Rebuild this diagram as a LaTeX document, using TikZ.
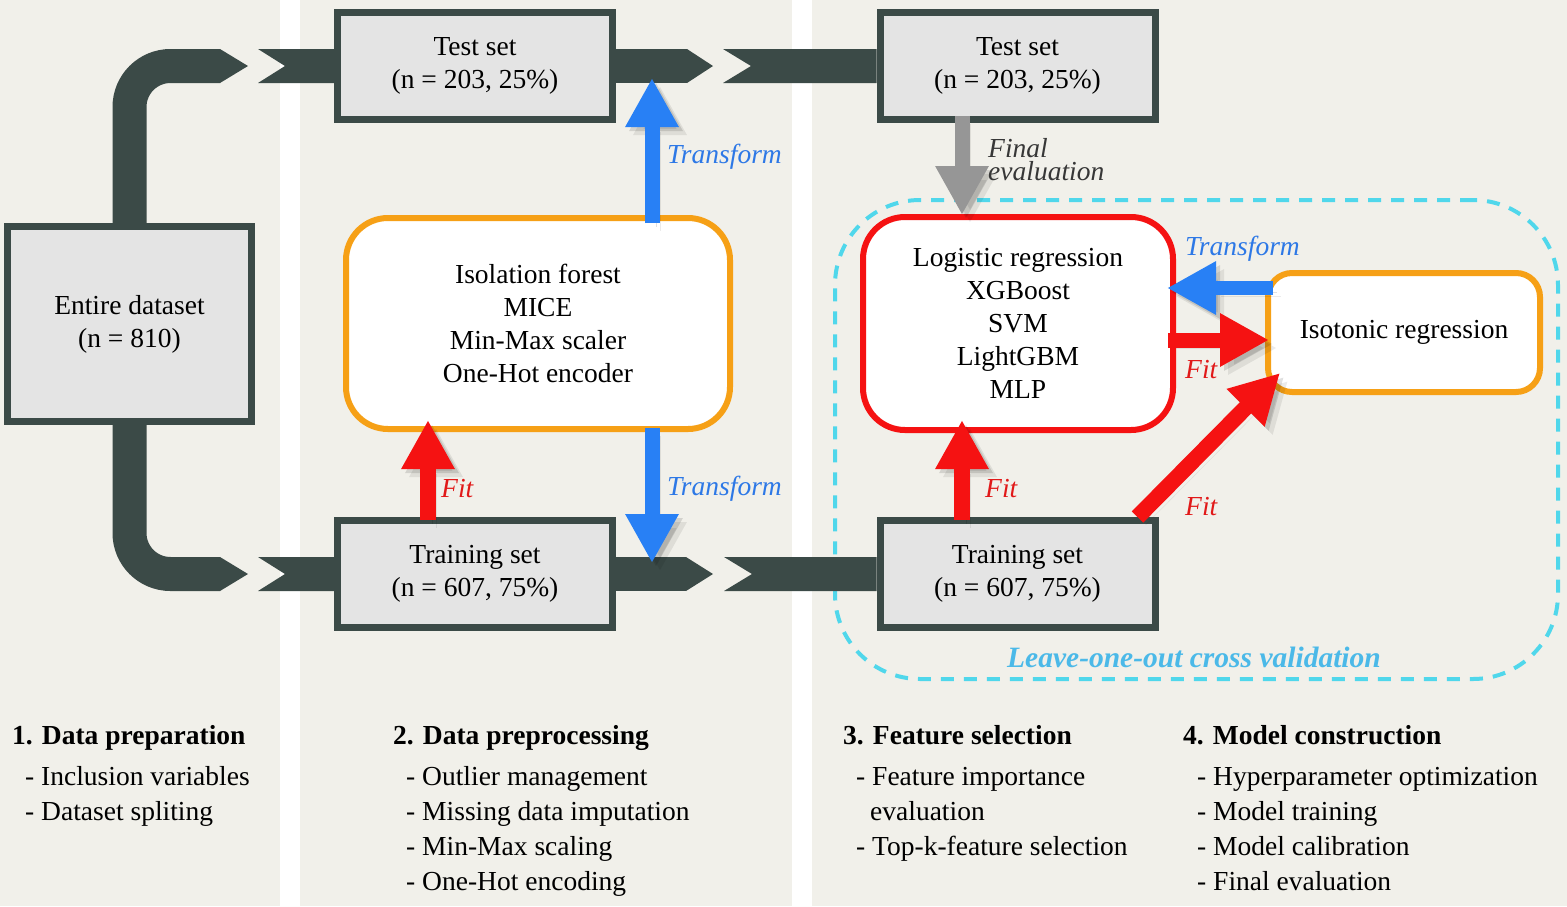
\documentclass[tikz,border=0pt]{standalone}
\usepackage{fontspec}
\setmainfont{Liberation Serif}
\usetikzlibrary{arrows.meta,calc}
\definecolor{bgc}{RGB}{241,240,234}
\definecolor{bandc}{RGB}{59,74,71}
\definecolor{boxc}{RGB}{228,228,228}
\definecolor{orangec}{RGB}{246,160,22}
\definecolor{redc}{RGB}{245,18,18}
\definecolor{bluec}{RGB}{40,128,245}
\definecolor{bluetxt}{RGB}{45,120,230}
\definecolor{grayc}{RGB}{150,150,150}
\definecolor{cyanc}{RGB}{80,215,235}
\definecolor{loocv}{RGB}{75,185,232}
\definecolor{fittxt}{RGB}{225,25,25}
\definecolor{evaltxt}{RGB}{55,55,55}
\newcommand\dgfont{\fontsize{27.5}{33}\selectfont}
\begin{document}
\begin{tikzpicture}[x=1pt,y=-1pt,
  setbox/.style={draw=bandc, line width=7pt, fill=boxc, minimum width=275pt, minimum height=107pt, align=center, inner sep=0pt, font=\dgfont},
  roundbox/.style={line width=6pt, fill=white, align=center, inner sep=0pt, font=\dgfont},
  band/.style={draw=bandc, line width=34pt},
  fatarrow/.style={line width=15pt, draw=#1, -{Triangle[length=49pt,width=50pt]},
    preaction={draw=black, opacity=0.08, transform canvas={shift={(8pt,-8pt)}}},
    preaction={draw=black, opacity=0.12, transform canvas={shift={(4pt,-4pt)}}}},
  lbl/.style={font=\itshape\dgfont, inner sep=0pt, anchor=west},
  head/.style={font=\bfseries\dgfont, inner sep=0pt, anchor=base west},
  item/.style={font=\dgfont, inner sep=0pt, anchor=base west}
]
\useasboundingbox (0,0) rectangle (1567,906);
\fill[white] (0,0) rectangle (1567,906);
\fill[bgc] (0,0) rectangle (280,906);
\fill[bgc] (300,0) rectangle (792,906);
\fill[bgc] (812,0) rectangle (1567,906);

% cross validation region
\node[draw=cyanc, line width=4pt, dash pattern=on 13pt off 10pt, rounded corners=85pt,
      minimum width=723pt, minimum height=479pt, inner sep=0pt] (loo) at (1196.5,439.5) {};

% boxes
\node[setbox, minimum width=244pt, minimum height=195pt] (ed) at (129.5,324) {Entire dataset\\(n = 810)};
\node[setbox] (ts1) at (475,66) {Test set\\(n = 203, 25\%)};
\node[setbox] (tr1) at (475,574) {Training set\\(n = 607, 75\%)};
\node[setbox] (ts2) at (1017.5,66) {Test set\\(n = 203, 25\%)};
\node[setbox] (tr2) at (1017.5,574) {Training set\\(n = 607, 75\%)};

\node[roundbox, draw=orangec, rounded corners=42pt, minimum width=384pt, minimum height=211pt] (ob) at (538,323.5)
  {Isolation forest\\MICE\\Min-Max scaler\\One-Hot encoder};
\node[roundbox, draw=redc, rounded corners=42pt, minimum width=310pt, minimum height=213pt] (rb) at (1018,323.5)
  {Logistic regression\\XGBoost\\SVM\\LightGBM\\MLP};
\node[roundbox, draw=orangec, rounded corners=24pt, minimum width=272pt, minimum height=119pt] (iso) at (1404,332.5)
  {Isotonic regression};

% chevron coordinates
\coordinate (tA) at (220,66);
\coordinate (nA) at (258,66);
\coordinate (tB) at (687,66);
\coordinate (nB) at (723,66);
\coordinate (tC) at (220,574);
\coordinate (nC) at (258,574);
\coordinate (tD) at (686,574);
\coordinate (nD) at (724,574);

% top row bands
\draw[band, rounded corners=41pt] (ed.north) |- (tA);
\fill[bandc] ($(tA)+(0,-17)$) -- ($(tA)+(28,0)$) -- ($(tA)+(0,17)$) -- cycle;
\fill[bandc] ($(nA)+(0,-17)$) -- ($(nA)+(27,0)$) -- ($(nA)+(0,17)$) -- ($(ts1.west)+(0,17)$) -- ($(ts1.west)+(0,-17)$) -- cycle;
\draw[band] (ts1.east) -- (tB);
\fill[bandc] ($(tB)+(0,-17)$) -- ($(tB)+(26,0)$) -- ($(tB)+(0,17)$) -- cycle;
\fill[bandc] ($(nB)+(0,-17)$) -- ($(nB)+(28,0)$) -- ($(nB)+(0,17)$) -- ($(ts2.west)+(0,17)$) -- ($(ts2.west)+(0,-17)$) -- cycle;

% bottom row bands
\draw[band, rounded corners=41pt] (ed.south) |- (tC);
\fill[bandc] ($(tC)+(0,-17)$) -- ($(tC)+(28,0)$) -- ($(tC)+(0,17)$) -- cycle;
\fill[bandc] ($(nC)+(0,-17)$) -- ($(nC)+(27,0)$) -- ($(nC)+(0,17)$) -- ($(tr1.west)+(0,17)$) -- ($(tr1.west)+(0,-17)$) -- cycle;
\draw[band] (tr1.east) -- (tD);
\fill[bandc] ($(tD)+(0,-17)$) -- ($(tD)+(27,0)$) -- ($(tD)+(0,17)$) -- cycle;
\fill[bandc] ($(nD)+(0,-17)$) -- ($(nD)+(28,0)$) -- ($(nD)+(0,17)$) -- ($(tr2.west)+(0,17)$) -- ($(tr2.west)+(0,-17)$) -- cycle;

% arrows
\coordinate (bT) at (652,78);
\coordinate (bB) at (652,563);
\draw[fatarrow=bluec] ($(ob.north -| bT)+(0,8)$) -- (bT);
\draw[fatarrow=bluec] ($(ob.south -| bB)+(0,-4)$) -- (bB);
\draw[fatarrow=redc, line width=16pt] ($(tr1.north)+(-47,3)$) -- ($(ob.south)+(-110,-12)$);
\draw[fatarrow=grayc] ($(ts2.south)+(-55.5,-7)$) -- ($(rb.north)+(-56,1)$);
\draw[fatarrow=redc, line width=16pt] ($(tr2.north)+(-55.5,3)$) -- ($(rb.south)+(-56,-13)$);
\draw[fatarrow=bluec, line width=14pt] ($(iso.west)+(8,-44.5)$) -- ($(rb.east)+(-9,-35.5)$);
\draw[fatarrow=redc] ($(rb.east)+(-8,16.5)$) -- ($(iso.west)+(4,7.5)$);
\draw[fatarrow=redc, line width=16pt] ($(tr2.north east)+(-21,0)$) -- ($(iso.south west)+(15,-22)$);

% arrow labels
\node[lbl, text=bluetxt] (lt1) at (667,157) {Transform};
\node[lbl, text=bluetxt] (lt2) at (667,489) {Transform};
\node[lbl, text=fittxt] (lf1) at (441,489) {Fit};
\node[lbl, text=evaltxt, align=left, font=\itshape\fontsize{27.5}{23}\selectfont] (lfe) at (988,160) {Final\\evaluation};
\node[lbl, text=fittxt] (lf2) at (985,489) {Fit};
\node[lbl, text=bluetxt] (lt3) at (1185,249) {Transform};
\node[lbl, text=fittxt] (lf3) at (1185,370) {Fit};
\node[lbl, text=fittxt] (lf4) at (1185,507) {Fit};
\node[font=\bfseries\itshape\fontsize{29.5}{30}\selectfont, text=loocv, inner sep=0pt] (looT) at (1194,657) {Leave-one-out cross validation};

% stage descriptions
\node[head] (h1) at (12,744) {1. Data preparation};
\node[item] (i11) at (25,785) {- Inclusion variables};
\node[item] (i12) at (25,820.3) {- Dataset spliting};

\node[head] (h2) at (393,744) {2. Data preprocessing};
\node[item] (i21) at (406,785) {- Outlier management};
\node[item] (i22) at (406,820.3) {- Missing data imputation};
\node[item] (i23) at (406,855.6) {- Min-Max scaling};
\node[item] (i24) at (406,890.9) {- One-Hot encoding};

\node[head] (h3) at (843,744) {3. Feature selection};
\node[item] (i31) at (856,785) {- Feature importance};
\node[item] (i32) at (870,820.3) {evaluation};
\node[item] (i33) at (856,855.6) {- Top-k-feature selection};

\node[head] (h4) at (1183,744) {4. Model construction};
\node[item] (i41) at (1197,785) {- Hyperparameter optimization};
\node[item] (i42) at (1197,820.3) {- Model training};
\node[item] (i43) at (1197,855.6) {- Model calibration};
\node[item] (i44) at (1197,890.9) {- Final evaluation};
\end{tikzpicture}
\end{document}
